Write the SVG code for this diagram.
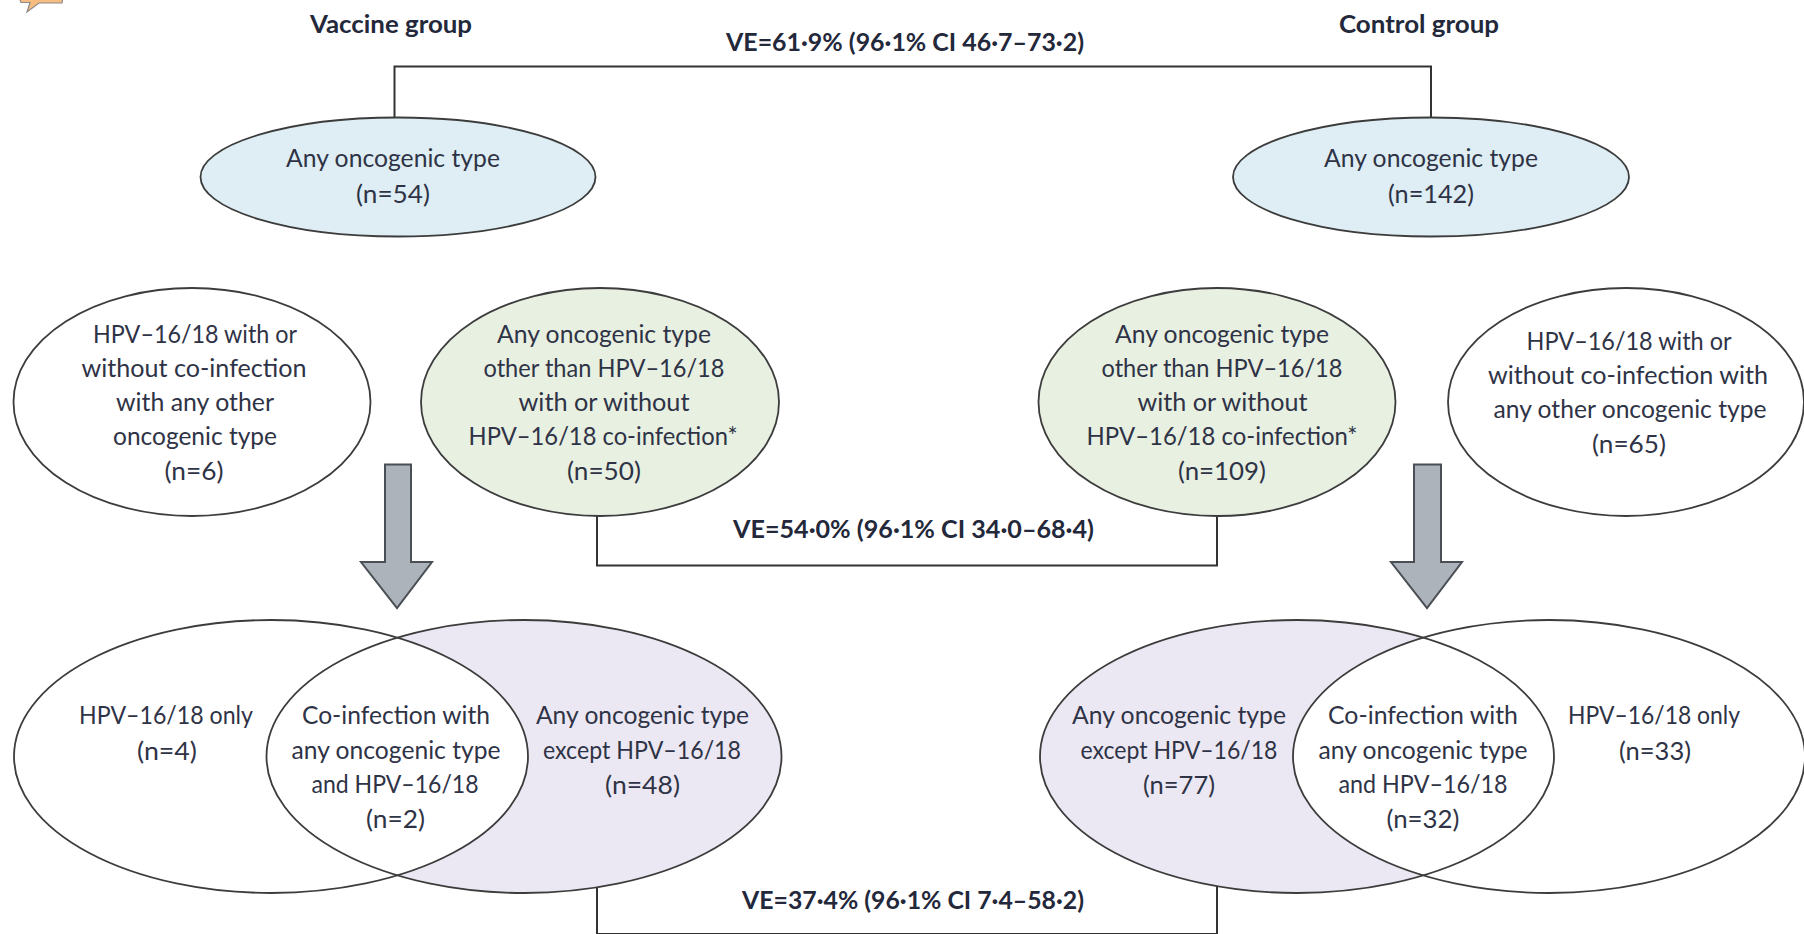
<svg xmlns="http://www.w3.org/2000/svg" width="1804" height="934" viewBox="0 0 1804 934">
<style>
text{font-family:Lato,"Open Sans","Liberation Sans",sans-serif;font-size:25px;fill:#2f3346;text-anchor:middle}
.b{font-weight:700;fill:#23283a}
.o{stroke:#3c3c3c;stroke-width:1.8}
.n{fill:none}
.c{fill:none;stroke:#333;stroke-width:2}
.a{fill:#acb3ba;stroke:#4a4f55;stroke-width:2}
</style>
<defs>
<clipPath id="clipL"><ellipse cx="271" cy="756.500" rx="257" ry="136.500"/></clipPath>
<clipPath id="clipR"><ellipse cx="1549" cy="756.500" rx="256" ry="136.500"/></clipPath>
</defs>
<rect width="1804" height="934" fill="#fff"/>
<polygon points="19,-3 21,2.500 30,2.500 27,12 39,3 62,3 63,-3" fill="#f7bd80" stroke="#8a8a8a" stroke-width="1.200"/>
<g id="connectors">
<path class="c" d="M394.500 118V66.500H1431V118"/>
<path class="c" d="M597 516V565.500H1217V516"/>
<path class="c" d="M597 885V934H1217V885"/>
</g>
<g id="arrow-vaccine"><polygon class="a" points="385,464.500 411,464.500 411,562 432,562 397,608 361,562 385,562"/></g>
<g id="arrow-control"><polygon class="a" points="1414,464.500 1441,464.500 1441,562 1462,562 1427,608 1391,562 1414,562"/></g>
<g id="title-vaccine"><text class="b" x="391" y="33" textLength="162" lengthAdjust="spacingAndGlyphs">Vaccine group</text></g>
<g id="title-control"><text class="b" x="1419" y="33" textLength="160" lengthAdjust="spacingAndGlyphs">Control group</text></g>
<g id="ve-top"><text class="b" x="905" y="51" textLength="358" lengthAdjust="spacingAndGlyphs">VE=61·9% (96·1% CI 46·7–73·2)</text></g>
<g id="ve-middle"><text class="b" x="913.500" y="538" textLength="361" lengthAdjust="spacingAndGlyphs">VE=54·0% (96·1% CI 34·0–68·4)</text></g>
<g id="ve-bottom"><text class="b" x="913" y="909" textLength="342" lengthAdjust="spacingAndGlyphs">VE=37·4% (96·1% CI 7·4–58·2)</text></g>

<g id="vaccine-any">
<ellipse class="o" cx="398" cy="177" rx="197.500" ry="59.500" fill="#deeef4"/>
<text x="393" y="167" textLength="214" lengthAdjust="spacingAndGlyphs">Any oncogenic type</text>
<text x="393" y="202.500" textLength="74" lengthAdjust="spacingAndGlyphs">(n=54)</text>
</g>
<g id="control-any">
<ellipse class="o" cx="1431" cy="177" rx="198" ry="59.500" fill="#deeef4"/>
<text x="1431" y="167" textLength="214" lengthAdjust="spacingAndGlyphs">Any oncogenic type</text>
<text x="1431" y="202.500" textLength="86" lengthAdjust="spacingAndGlyphs">(n=142)</text>
</g>
<g id="vaccine-hpv1618">
<ellipse class="o" cx="192" cy="402" rx="178.500" ry="114" fill="#fff"/>
<text x="195" y="343" textLength="204" lengthAdjust="spacingAndGlyphs">HPV–16/18 with or</text>
<text x="194" y="377" textLength="225" lengthAdjust="spacingAndGlyphs">without co-infection</text>
<text x="195" y="411" textLength="158" lengthAdjust="spacingAndGlyphs">with any other</text>
<text x="195" y="445" textLength="164" lengthAdjust="spacingAndGlyphs">oncogenic type</text>
<text x="194" y="480" textLength="59" lengthAdjust="spacingAndGlyphs">(n=6)</text>
</g>
<g id="vaccine-other">
<ellipse class="o" cx="600" cy="402" rx="179" ry="114" fill="#e8f0e2"/>
<text x="604" y="343" textLength="214" lengthAdjust="spacingAndGlyphs">Any oncogenic type</text>
<text x="604" y="377" textLength="241" lengthAdjust="spacingAndGlyphs">other than HPV–16/18</text>
<text x="604" y="411" textLength="171" lengthAdjust="spacingAndGlyphs">with or without</text>
<text x="603" y="445" textLength="269" lengthAdjust="spacingAndGlyphs">HPV–16/18 co-infection*</text>
<text x="604" y="480" textLength="74" lengthAdjust="spacingAndGlyphs">(n=50)</text>
</g>
<g id="control-other">
<ellipse class="o" cx="1217" cy="402" rx="178.500" ry="114" fill="#e8f0e2"/>
<text x="1222" y="343" textLength="214" lengthAdjust="spacingAndGlyphs">Any oncogenic type</text>
<text x="1222" y="377" textLength="241" lengthAdjust="spacingAndGlyphs">other than HPV–16/18</text>
<text x="1222.500" y="411" textLength="170" lengthAdjust="spacingAndGlyphs">with or without</text>
<text x="1222" y="445" textLength="271" lengthAdjust="spacingAndGlyphs">HPV–16/18 co-infection*</text>
<text x="1222" y="480" textLength="88" lengthAdjust="spacingAndGlyphs">(n=109)</text>
</g>
<g id="control-hpv1618">
<ellipse class="o" cx="1626" cy="402" rx="178" ry="114" fill="#fff"/>
<text x="1629" y="350" textLength="205" lengthAdjust="spacingAndGlyphs">HPV–16/18 with or</text>
<text x="1628" y="384" textLength="280" lengthAdjust="spacingAndGlyphs">without co-infection with</text>
<text x="1630" y="418" textLength="273" lengthAdjust="spacingAndGlyphs">any other oncogenic type</text>
<text x="1629" y="453" textLength="74" lengthAdjust="spacingAndGlyphs">(n=65)</text>
</g>

<g id="vaccine-except">
<ellipse cx="524" cy="756.500" rx="257.500" ry="136.500" fill="#ebe8f3"/>
<ellipse cx="524" cy="756.500" rx="257.500" ry="136.500" fill="#fff" clip-path="url(#clipL)"/>
<ellipse class="o n" cx="524" cy="756.500" rx="257.500" ry="136.500"/>
<text x="642.500" y="724" textLength="213" lengthAdjust="spacingAndGlyphs">Any oncogenic type</text>
<text x="642" y="759" textLength="198" lengthAdjust="spacingAndGlyphs">except HPV–16/18</text>
<text x="642.500" y="794" textLength="75" lengthAdjust="spacingAndGlyphs">(n=48)</text>
</g>
<g id="vaccine-only">
<ellipse class="o n" cx="271" cy="756.500" rx="257" ry="136.500"/>
<text x="166" y="724" textLength="174" lengthAdjust="spacingAndGlyphs">HPV–16/18 only</text>
<text x="167" y="760" textLength="60" lengthAdjust="spacingAndGlyphs">(n=4)</text>
</g>
<g id="vaccine-both">
<text x="396" y="724" textLength="188" lengthAdjust="spacingAndGlyphs">Co-infection with</text>
<text x="396" y="759" textLength="209" lengthAdjust="spacingAndGlyphs">any oncogenic type</text>
<text x="395" y="793" textLength="167" lengthAdjust="spacingAndGlyphs">and HPV–16/18</text>
<text x="395.500" y="828" textLength="59" lengthAdjust="spacingAndGlyphs">(n=2)</text>
</g>
<g id="control-except">
<ellipse cx="1297" cy="756.500" rx="257" ry="136.500" fill="#ebe8f3"/>
<ellipse cx="1297" cy="756.500" rx="257" ry="136.500" fill="#fff" clip-path="url(#clipR)"/>
<ellipse class="o n" cx="1297" cy="756.500" rx="257" ry="136.500"/>
<text x="1179" y="724" textLength="214" lengthAdjust="spacingAndGlyphs">Any oncogenic type</text>
<text x="1179" y="759" textLength="197" lengthAdjust="spacingAndGlyphs">except HPV–16/18</text>
<text x="1179" y="794" textLength="72" lengthAdjust="spacingAndGlyphs">(n=77)</text>
</g>
<g id="control-only">
<ellipse class="o n" cx="1549" cy="756.500" rx="256" ry="136.500"/>
<text x="1654" y="724" textLength="172" lengthAdjust="spacingAndGlyphs">HPV–16/18 only</text>
<text x="1655" y="760" textLength="72" lengthAdjust="spacingAndGlyphs">(n=33)</text>
</g>
<g id="control-both">
<text x="1423" y="724" textLength="190" lengthAdjust="spacingAndGlyphs">Co-infection with</text>
<text x="1423" y="759" textLength="209" lengthAdjust="spacingAndGlyphs">any oncogenic type</text>
<text x="1423" y="793" textLength="169" lengthAdjust="spacingAndGlyphs">and HPV–16/18</text>
<text x="1423" y="828" textLength="73" lengthAdjust="spacingAndGlyphs">(n=32)</text>
</g>
</svg>
